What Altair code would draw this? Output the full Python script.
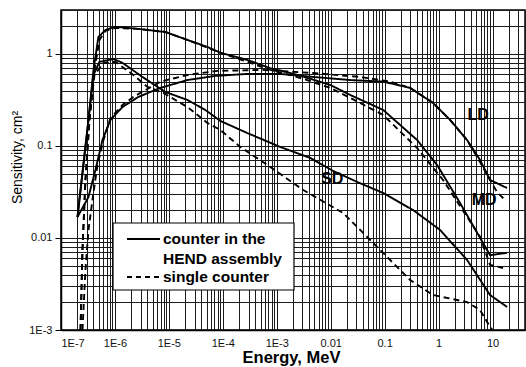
import altair as alt
import pandas as pd

# ---- data (Energy in MeV, Sensitivity in cm^2) ----
md_solid_e = [2.02e-7, 3.23e-7, 4.0e-7, 4.94e-7, 6.67e-7, 1.02e-6, 2.72e-6, 8.6e-6, 2.2e-5, 5.16e-5,
              9.0e-5, 2.85e-4, 7.6e-4, 1.78e-3, 3.67e-3, 9.8e-3, 0.023, 0.094, 0.40, 0.94, 2.5, 9.0, 18.6]
md_solid_s = [0.0169, 0.192, 0.67, 1.53, 1.82, 1.97, 1.87, 1.73, 1.42, 1.19,
              1.03, 0.86, 0.70, 0.62, 0.55, 0.46, 0.358, 0.246, 0.116, 0.062, 0.024, 0.0065, 0.0069]

md_dash_e = [2.30e-7, 2.5e-7, 2.84e-7, 3.37e-7, 4.17e-7, 5.16e-7, 6.67e-7, 1.02e-6, 2.72e-6, 8.6e-6,
             2.2e-5, 9.0e-5, 2.85e-4, 7.6e-4, 1.78e-3, 3.67e-3, 9.8e-3, 0.023, 0.094, 0.40, 1.21, 5.87, 9.0, 15.6]
md_dash_s = [0.001, 0.0074, 0.0427, 0.192, 0.67, 1.42, 1.78, 1.92, 1.87, 1.73,
             1.42, 1.03, 0.82, 0.67, 0.59, 0.52, 0.427, 0.333, 0.217, 0.095, 0.0427, 0.0103, 0.0051, 0.00472]

sd_solid_e = [2.02e-7, 3.23e-7, 4.0e-7, 5.16e-7, 9.38e-7, 1.38e-6, 3.23e-6, 8.6e-6, 2.2e-5, 4.74e-5,
              9.0e-5, 2.85e-4, 1.16e-3, 4.17e-3, 0.0111, 0.031, 0.094, 0.337, 1.07, 3.37, 9.0, 18.6]
sd_solid_s = [0.0169, 0.192, 0.59, 0.82, 0.88, 0.80, 0.562, 0.386, 0.316, 0.246,
              0.187, 0.138, 0.0975, 0.0741, 0.0535, 0.0406, 0.0308, 0.0201, 0.0122, 0.00577, 0.0024, 0.00178]

sd_dash_e = [2.30e-7, 2.5e-7, 2.84e-7, 3.37e-7, 4.17e-7, 6.12e-7, 1.02e-6, 2.20e-6, 4.0e-6, 7.91e-6,
             2.2e-5, 5.16e-5, 9.0e-5, 2.11e-4, 7.6e-4, 3.10e-3, 0.0170, 0.0726, 0.297, 0.79, 3.37, 5.87, 9.0, 10.0]
sd_dash_s = [0.001, 0.0074, 0.0427, 0.192, 0.59, 0.80, 0.82, 0.59, 0.438, 0.377,
             0.265, 0.178, 0.149, 0.0975, 0.059, 0.0332, 0.0187, 0.0080, 0.00349, 0.0024, 0.00201, 0.00165, 0.00108, 0.001]

ld_solid_e = [2.02e-7, 3.23e-7, 4.35e-7, 5.87e-7, 8.26e-7, 1.38e-6, 2.72e-6, 6.96e-6, 2.2e-5, 7.26e-5,
              2.85e-4, 1.16e-3, 4.74e-3, 0.023, 0.094, 0.297, 0.79, 1.63, 3.37, 5.87, 9.0, 18.6]
ld_solid_s = [0.0169, 0.0279, 0.0548, 0.116, 0.192, 0.265, 0.341, 0.427, 0.52, 0.577,
              0.606, 0.606, 0.562, 0.52, 0.50, 0.427, 0.293, 0.192, 0.116, 0.0705, 0.0427, 0.0349]

ld_dash_e = [2.5e-7, 2.84e-7, 3.23e-7, 3.83e-7, 4.74e-7, 6.12e-7, 8.26e-7, 1.38e-6, 2.20e-6, 6.96e-6,
             2.2e-5, 7.91e-5, 5.39e-4, 4.74e-3, 0.035, 0.126, 0.297, 0.79, 1.63, 3.37, 5.87, 9.0, 12.1, 17.0]
ld_dash_s = [0.001, 0.00449, 0.0122, 0.0259, 0.062, 0.116, 0.201, 0.279, 0.341, 0.50,
             0.59, 0.654, 0.67, 0.62, 0.562, 0.50, 0.427, 0.293, 0.192, 0.116, 0.067, 0.0427, 0.0316, 0.0259]

curve_labels = ["LD", "MD", "SD"]
curve_label_e = [5.4, 7.0, 0.0107]
curve_label_s = [0.217, 0.0259, 0.0438]

legend_texts = ["counter in the", "HEND assembly", "single counter"]

x_labels_decades = list(range(-7, 2))
y_labels_decades = list(range(-3, 1))

# ---- table ----
rows = []
for name, kind, es, ss in [
    ("MD", "solid", md_solid_e, md_solid_s), ("MD", "dashed", md_dash_e, md_dash_s),
    ("SD", "solid", sd_solid_e, sd_solid_s), ("SD", "dashed", sd_dash_e, sd_dash_s),
    ("LD", "solid", ld_solid_e, ld_solid_s), ("LD", "dashed", ld_dash_e, ld_dash_s),
]:
    for i, (e, s) in enumerate(zip(es, ss)):
        rows.append({"curve": name + "-" + kind, "kind": kind, "E": e, "S": s, "o": i})
df = pd.DataFrame(rows)

X_MAX, Y_MAX = 40, 3
x_vals = []
for ex in x_labels_decades:
    for m in range(1, 10):
        v = (10.0 ** ex) if m == 1 else m * 10.0 ** ex
        if v <= X_MAX:
            x_vals.append(v)
y_vals = []
for ex in y_labels_decades:
    for m in range(1, 10):
        v = (10.0 ** ex) if m == 1 else m * 10.0 ** ex
        if v <= Y_MAX:
            y_vals.append(v)

is_dec = "abs(log(datum.value)/LN10 - round(log(datum.value)/LN10)) < 0.001"
nexp = "round(log(datum.value)/LN10)"
lab_expr = f"({is_dec}) ? (({nexp}) <= -3 ? '1E' + ({nexp}) : '' + datum.value) : ''"

FONT = "Liberation Sans"
GRID = "#1c1c1c"

x_axis = alt.Axis(values=x_vals, labelExpr=lab_expr, labelOverlap=False, ticks=False,
                  labelPadding=7, labelFontSize=11, labelFont=FONT, labelColor="#111",
                  title="Energy, MeV", titleFont=FONT, titleFontSize=16.5, titleFontWeight="bold",
                  titleX=230, titleY=27, titleBaseline="middle", titleAlign="center",
                  grid=True, gridColor=GRID, gridWidth=1, domainColor="black", domainWidth=1.5)
y_axis = alt.Axis(values=y_vals, labelExpr=lab_expr, labelOverlap=False, ticks=True, tickSize=6,
                  tickColor="black",
                  tickOpacity={"condition": {"test": is_dec, "value": 1}, "value": 0},
                  labelPadding=3, labelFontSize=11, labelFont=FONT, labelColor="#111",
                  title="Sensitivity, cm²", titleFont=FONT, titleFontSize=14, titleFontWeight="normal",
                  titleX=-44, titleY=147, titleBaseline="middle", titleAlign="center", titleAngle=270,
                  grid=True, gridColor=GRID, gridWidth=1, domainColor="black", domainWidth=1.5)

xs = alt.Scale(type="log", domain=[1e-7, X_MAX], nice=False)
ys = alt.Scale(type="log", domain=[1e-3, Y_MAX], nice=False)

lines = alt.Chart(df).mark_line(color="black", strokeWidth=1.9, clip=True).encode(
    x=alt.X("E:Q", scale=xs, axis=x_axis),
    y=alt.Y("S:Q", scale=ys, axis=y_axis),
    detail="curve:N",
    order="o:Q",
    strokeDash=alt.StrokeDash("kind:N", scale=alt.Scale(domain=["solid", "dashed"], range=[[1, 0], [6, 4]]),
                              legend=None),
)

lab_df = pd.DataFrame({"t": curve_labels, "E": curve_label_e, "S": curve_label_s})
labels = alt.Chart(lab_df).mark_text(font=FONT, fontSize=16, fontWeight="bold", color="black",
                                     align="center", baseline="middle").encode(
    x=alt.X("E:Q", scale=xs), y=alt.Y("S:Q", scale=ys), text="t:N")

one = pd.DataFrame({"a": [0]})
leg_box = alt.Chart(one).mark_rect(fill="white", stroke="black", strokeWidth=1.2).encode(
    x=alt.value(52), x2=alt.value(233), y=alt.value(213), y2=alt.value(280))
leg_solid = alt.Chart(one).mark_rule(color="black", strokeWidth=1.8).encode(
    x=alt.value(66), x2=alt.value(99), y=alt.value(229))
leg_dash = alt.Chart(one).mark_rule(color="black", strokeWidth=1.8, strokeDash=[5, 4]).encode(
    x=alt.value(66), x2=alt.value(99), y=alt.value(267))

def leg_text(txt, ypos):
    return alt.Chart(one).mark_text(text=txt, font=FONT, fontSize=15.5, fontWeight="bold", color="black",
                                    align="left", baseline="middle").encode(
        x=alt.value(102), y=alt.value(ypos))

chart = alt.layer(
    lines, labels, leg_box, leg_solid, leg_dash,
    leg_text(legend_texts[0], 229), leg_text(legend_texts[1], 249), leg_text(legend_texts[2], 267),
).properties(
    width=464, height=320,
    autosize=alt.AutoSizeParams(type="none"),
    padding={"left": 61, "top": 10, "right": 1, "bottom": 37},
    background="white",
).configure_view(stroke="black", strokeWidth=1.5)

chart.save("out.html", embed_options={"renderer": "svg", "actions": False})
